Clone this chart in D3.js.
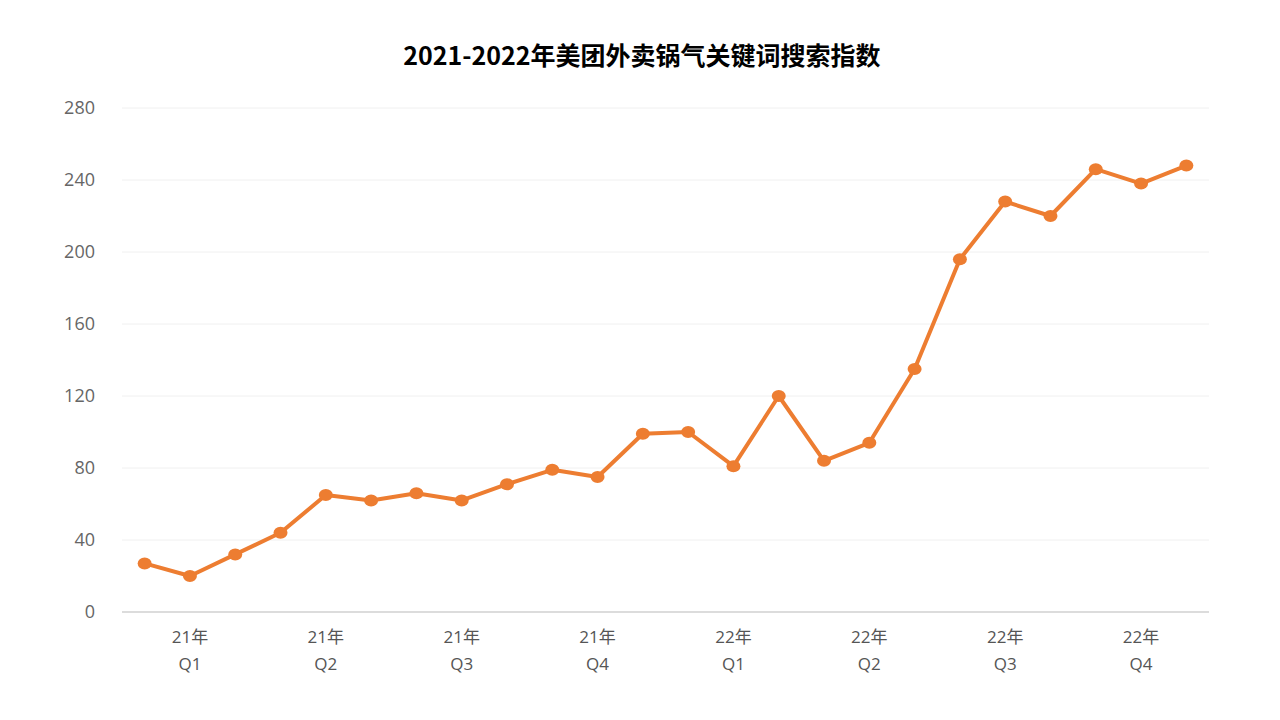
<!DOCTYPE html>
<html><head><meta charset="utf-8">
<script src="https://cdn.jsdelivr.net/npm/d3@7/dist/d3.min.js"></script>
<style>body{margin:0;background:#fff;} svg{display:block;}</style>
</head><body>
<svg id="c" width="1280" height="720"></svg>
<script>
const months = ["21-01","21-02","21-03","21-04","21-05","21-06","21-07","21-08","21-09","21-10","21-11","21-12",
"22-01","22-02","22-03","22-04","22-05","22-06","22-07","22-08","22-09","22-10","22-11","22-12"];
const values = [27,20,32,44,65,62,66,62,71,79,75,99,100,81,120,84,94,135,196,228,220,246,238,248];
const quarterLabels = {"21-02":["21年","Q1"],"21-05":["21年","Q2"],"21-08":["21年","Q3"],"21-11":["21年","Q4"],
"22-02":["22年","Q1"],"22-05":["22年","Q2"],"22-08":["22年","Q3"],"22-11":["22年","Q4"]};
const yTicks = [0,40,80,120,160,200,240,280];
const title = "2021-2022年美团外卖锅气关键词搜索指数";

const svg = d3.select("#c");
const font = "'Open Sans','Noto Sans CJK SC',sans-serif";
const x = d3.scaleBand().domain(months).range([122,1209]);
const y = d3.scaleLinear().domain([0,280]).range([612,108]);

svg.append("text").attr("x",642).attr("y",65).attr("text-anchor","middle")
  .attr("font-family","'Noto Sans CJK SC','Open Sans',sans-serif").attr("font-weight","bold")
  .attr("font-size",25).attr("fill","#000").text(title);

svg.append("g").selectAll("line").data(yTicks.filter(d=>d>0)).join("line")
  .attr("x1",122).attr("x2",1209).attr("y1",d=>y(d)).attr("y2",d=>y(d))
  .attr("stroke","#f0f0f0").attr("stroke-width",1);
svg.append("g").selectAll("text").data(yTicks).join("text")
  .attr("x",95).attr("y",d=>y(d)).attr("dy","0.36em").attr("text-anchor","end")
  .attr("font-family",font).attr("font-size",18).attr("fill","#666").text(d=>d);
svg.append("line").attr("x1",122).attr("x2",1209).attr("y1",y(0)).attr("y2",y(0))
  .attr("stroke","#dcdcdc").attr("stroke-width",2);
const xl = svg.append("g").selectAll("text").data(months.filter(m=>quarterLabels[m])).join("text")
  .attr("text-anchor","middle").attr("font-family",font).attr("font-size",17).attr("fill","#555");
xl.append("tspan").attr("x",m=>x(m)+x.bandwidth()/2).attr("y",643).text(m=>quarterLabels[m][0]);
xl.append("tspan").attr("x",m=>x(m)+x.bandwidth()/2).attr("y",670).text(m=>quarterLabels[m][1]);

const data = months.map((m,i)=>({m,v:values[i]}));
const line = d3.line().x(d=>x(d.m)+x.bandwidth()/2).y(d=>y(d.v));
svg.append("path").datum(data).attr("d",line).attr("fill","none")
  .attr("stroke","#ED7D31").attr("stroke-width",4).attr("stroke-linejoin","round");
svg.append("g").selectAll("ellipse").data(data).join("ellipse")
  .attr("cx",d=>x(d.m)+x.bandwidth()/2).attr("cy",d=>y(d.v)).attr("rx",7).attr("ry",6)
  .attr("fill","#ED7D31");
</script>
</body></html>
